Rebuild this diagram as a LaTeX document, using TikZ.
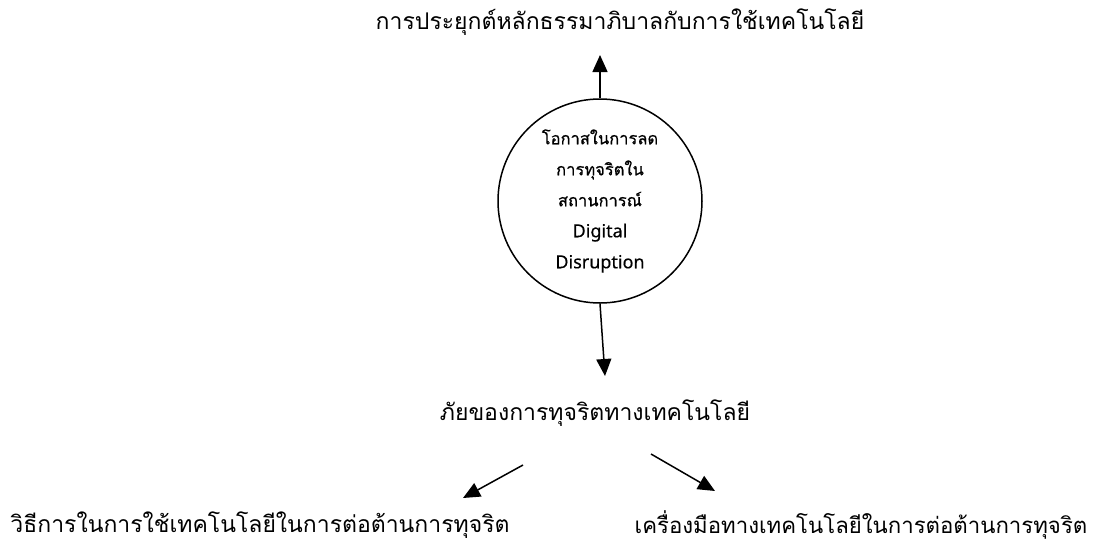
\documentclass[tikz,border=0pt]{standalone}
\usepackage{fontspec}
\setmainfont{Loma}[Script=Thai]
\newfontfamily\hubfont{Loma}[Script=Thai,FakeBold=0.6]
\newfontfamily\latinfont{Noto Sans}[FakeBold=0.4]
\usetikzlibrary{arrows.meta}

\begin{document}
\begin{tikzpicture}[x=1pt,y=-1pt,line width=1.5pt,
  >={Triangle[width=15pt,length=17pt]},
  label/.style={font=\fontsize{23}{27}\selectfont,inner sep=0pt},
  hub/.style={shape=circle,draw,minimum size=204pt,align=center,inner sep=0pt,
    font=\hubfont\fontsize{16.5}{31}\selectfont}]
\useasboundingbox (0,0) rectangle (1096,547);
\node[label] (T) at (620,22) {การประยุกต์หลักธรรมาภิบาลกับการใช้เทคโนโลยี};
\node[hub] (C) at (600,201) {โอกาสในการลด\\การทุจริตใน\\สถานการณ์\\{\latinfont\fontsize{18}{31}\selectfont Digital}\\{\latinfont\fontsize{18}{31}\selectfont Disruption}};
\node[label] (M) at (595,413) {ภัยของการทุจริตทางเทคโนโลยี};
\node[label] (L) at (260,525) {วิธีการในการใช้เทคโนโลยีในการต่อต้านการทุจริต};
\node[label,font=\fontsize{22.2}{27}\selectfont] (R) at (861,525) {เครื่องมือทางเทคโนโลยีในการต่อต้านการทุจริต};
\coordinate (tup) at (600,55);
\coordinate (tdown) at (605,376);
\coordinate (la) at (523,465);
\coordinate (lb) at (463,498);
\coordinate (ra) at (651,454);
\coordinate (rb) at (715,491);
\draw [->] (C.north) -- (tup);
\draw [->] (C.south) -- (tdown);
\draw [->] (la) -- (lb);
\draw [->] (ra) -- (rb);
\end{tikzpicture}
\end{document}
